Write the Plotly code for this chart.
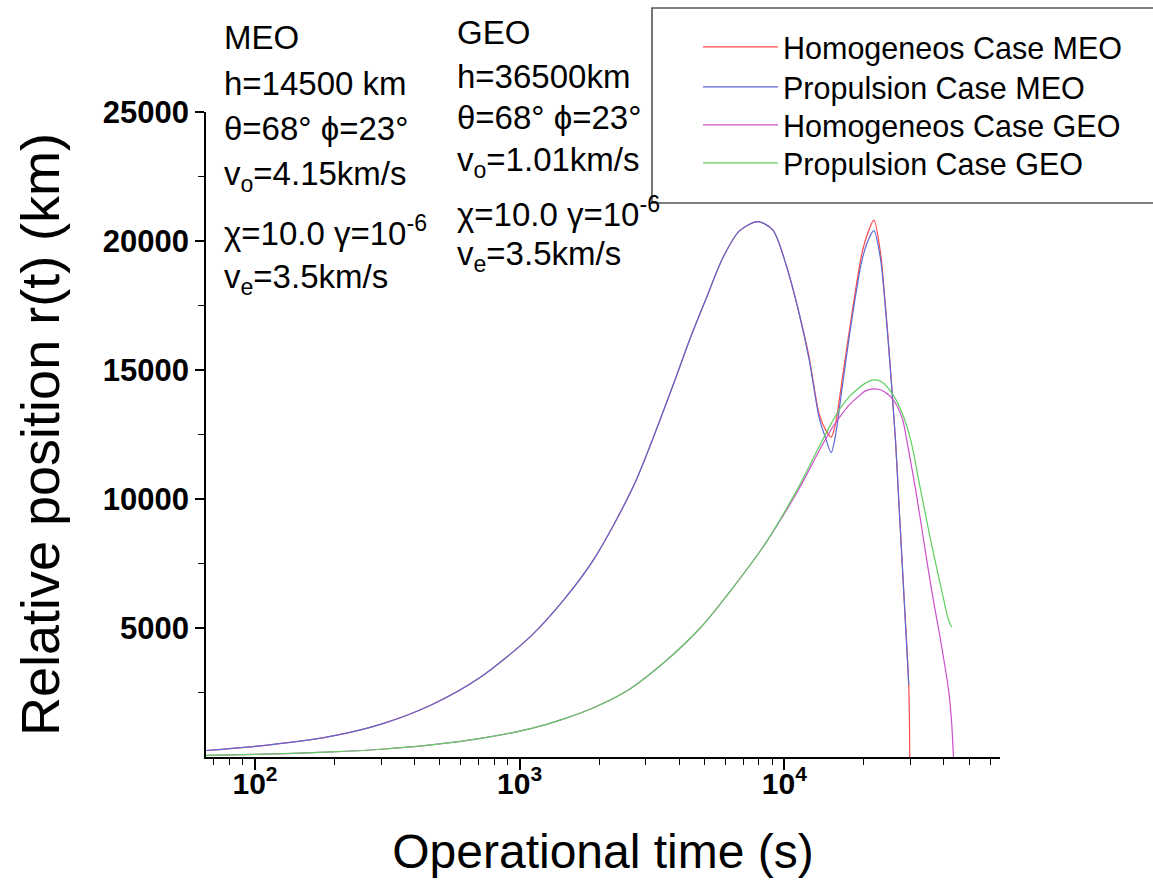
import math
import plotly.graph_objects as go

# ---------------- data ----------------
meo_hom_t = [65, 100, 195, 300, 463, 713, 1100, 1470, 1900, 2690, 3700, 4400, 5080, 5860, 6780,
             7940, 9040, 10140, 11370, 12410, 13540, 14380, 15030, 15600, 16530, 18020, 19650,
             20880, 21800, 23100, 23770, 24820, 26300, 27060, 28240, 29520, 29780]
meo_hom_r = [250, 410, 810, 1275, 2015, 3100, 4675, 6100, 7640, 10490, 14100, 16200, 17800, 19350, 20400,
             20750, 20430, 19100, 17200, 15500, 13300, 12650, 12400, 12900, 14610, 17210, 19530,
             20430, 20810, 19530, 18220, 15890, 12290, 9960, 6470, 2790, 0]

meo_prop_t = [65, 100, 195, 300, 463, 713, 1100, 1470, 1900, 2690, 3700, 4400, 5080, 5860, 6780,
              7940, 9040, 10140, 11370, 12410, 13540, 14380, 15030, 15600, 16530, 18020, 19650,
              20880, 21800, 23100, 23770, 24820, 26300, 27060, 28240, 29520]
meo_prop_r = [250, 410, 810, 1275, 2015, 3100, 4675, 6100, 7640, 10490, 14100, 16200, 17800, 19350, 20400,
              20750, 20430, 19100, 17200, 15400, 13150, 12300, 11800, 12450, 14300, 17000, 19250,
              20100, 20400, 19300, 18100, 15800, 12290, 9960, 6470, 2790]

geo_hom_t = [65, 100, 195, 300, 463, 713, 1100, 1470, 1950, 2610, 3590, 4790, 6380, 8510, 11370,
             13190, 15150, 16100, 17550, 19140, 20250, 22180, 23970, 26140, 28020, 29000, 31350,
             33600, 36010, 38930, 41730, 42810, 43560]
geo_hom_r = [65, 100, 195, 300, 470, 720, 1100, 1480, 1960, 2640, 3750, 4980, 6550, 8300, 10400,
             11650, 12750, 13140, 13640, 13990, 14190, 14265, 14150, 13760, 13060, 12290, 10350,
             8410, 6470, 4535, 2600, 1430, 0]

geo_prop_t = [65, 100, 195, 300, 463, 713, 1100, 1470, 1950, 2610, 3590, 4790, 6380, 8510, 11370,
              13190, 15150, 16100, 17550, 19140, 20340, 21800, 23360, 25470, 27770, 30020, 32730,
              35720, 39290, 41720, 42880]
geo_prop_r = [65, 100, 195, 300, 470, 720, 1100, 1480, 1960, 2640, 3750, 4980, 6550, 8300, 10500,
              11800, 12980, 13450, 13950, 14300, 14500, 14615, 14535, 14110, 13370, 12290, 10350,
              8410, 6470, 5310, 5040]

series_names = ["Homogeneos Case MEO", "Propulsion Case MEO",
                "Homogeneos Case GEO", "Propulsion Case GEO"]
series_colors = ["#ff4a4a", "#5a6ad6", "#cc4fcc", "#5fcf5f"]

x_tick_vals = [100, 1000, 10000]
x_tick_text = ["10<sup>2</sup>", "10<sup>3</sup>", "10<sup>4</sup>"]
y_tick_vals = [5000, 10000, 15000, 20000, 25000]
y_tick_text = ["5000", "10000", "15000", "20000", "25000"]
y_minor_vals = [2500, 7500, 12500, 17500, 22500]
x_range = [65.3, 65300]
y_range = [0, 25000]

meo_lines = ["MEO", "h=14500 km", "θ=68° ϕ=23°", "v<sub>o</sub>=4.15km/s",
             "χ=10.0 γ=10<sup>-6</sup>", "v<sub>e</sub>=3.5km/s"]
geo_lines = ["GEO", "h=36500km", "θ=68° ϕ=23°", "v<sub>o</sub>=1.01km/s",
             "χ=10.0 γ=10<sup>-6</sup>", "v<sub>e</sub>=3.5km/s"]

# ---------------- layout geometry ----------------
W, H = 1153, 895
L, R, T, B = 206, 153, 112, 138
PW, PH = W - L - R, H - T - B
FONT = "Liberation Sans, Arial, sans-serif"


def px_x(px):
    return (px - L) / PW


def px_y(py):
    return (H - B - py) / PH


legend_ids = ["legend", "legend2", "legend3", "legend4"]
legend_rows = [47, 87, 125, 163]

fig = go.Figure()
for t, r, name, col, lid in zip([meo_hom_t, meo_prop_t, geo_hom_t, geo_prop_t],
                                [meo_hom_r, meo_prop_r, geo_hom_r, geo_prop_r],
                                series_names, series_colors, legend_ids):
    fig.add_trace(go.Scatter(x=t, y=r, mode="lines", name=name, legend=lid, showlegend=True,
                             line=dict(color=col, width=1.2, shape="spline", smoothing=0.8)))

minor_x = [m * 10 ** d for d in range(1, 5) for m in range(2, 10)
           if x_range[0] <= m * 10 ** d <= x_range[1]]

fig.update_xaxes(type="log", range=[math.log10(x_range[0]), math.log10(x_range[1])],
                 showline=True, linecolor="black", linewidth=1.6, mirror=False,
                 showgrid=False, zeroline=False,
                 ticks="outside", ticklen=11, tickwidth=1.6, tickcolor="black",
                 tickmode="array", tickvals=x_tick_vals, ticktext=x_tick_text,
                 ticklabelstandoff=-12,
                 tickfont=dict(family=FONT, size=30, color="black", weight="bold"),
                 minor=dict(tickmode="array", tickvals=minor_x, ticks="outside",
                            ticklen=6, tickwidth=1.4, tickcolor="black", showgrid=False),
                 title=dict(text="Operational time (s)", standoff=36,
                            font=dict(family=FONT, size=48, color="black")))

fig.update_yaxes(range=y_range, showline=True, linecolor="black", linewidth=1.6, mirror=False,
                 showgrid=False, zeroline=False,
                 ticks="outside", ticklen=9, tickwidth=1.6, tickcolor="black",
                 tickmode="array", tickvals=y_tick_vals, ticktext=y_tick_text,
                 tickfont=dict(family=FONT, size=31, color="black", weight="bold"),
                 minor=dict(tickmode="array", tickvals=y_minor_vals, ticks="outside",
                            ticklen=6, tickwidth=1.4, tickcolor="black", showgrid=False),
                 title=dict(text="Relative position r(t) (km)", standoff=26,
                            font=dict(family=FONT, size=54, color="black")))

annotations = []
meo_y = [38, 83, 129, 176, 231, 279]
geo_y = [33, 77, 118, 162, 212, 256]
for txt, yy in zip(meo_lines, meo_y):
    annotations.append(dict(xref="paper", yref="paper", x=px_x(222), y=px_y(yy), text=txt,
                            showarrow=False, xanchor="left", yanchor="middle",
                            font=dict(family=FONT, size=33, color="black")))
for txt, yy in zip(geo_lines, geo_y):
    annotations.append(dict(xref="paper", yref="paper", x=px_x(455), y=px_y(yy), text=txt,
                            showarrow=False, xanchor="left", yanchor="middle",
                            font=dict(family=FONT, size=33, color="black")))

legend_common = dict(xanchor="left", yanchor="middle", bgcolor="rgba(0,0,0,0)", borderwidth=0,
                     font=dict(family=FONT, size=30.5, color="black"), itemwidth=75, visible=True)
layout_legends = {}
for lid, row in zip(legend_ids, legend_rows):
    layout_legends[lid] = dict(x=px_x(698), y=px_y(row), **legend_common)

fig.update_layout(
    width=W, height=H,
    showlegend=True,
    margin=dict(l=L, r=R, t=T, b=B, autoexpand=False),
    paper_bgcolor="white", plot_bgcolor="white",
    font=dict(family=FONT, color="black"),
    annotations=annotations,
    shapes=[dict(type="rect", xref="paper", yref="paper",
                 x0=px_x(652), x1=px_x(1165), y0=px_y(203), y1=px_y(8),
                 line=dict(color="#555555", width=1.6), fillcolor="rgba(0,0,0,0)",
                 layer="above")],
    **layout_legends,
)

fig.write_html("out.html")
